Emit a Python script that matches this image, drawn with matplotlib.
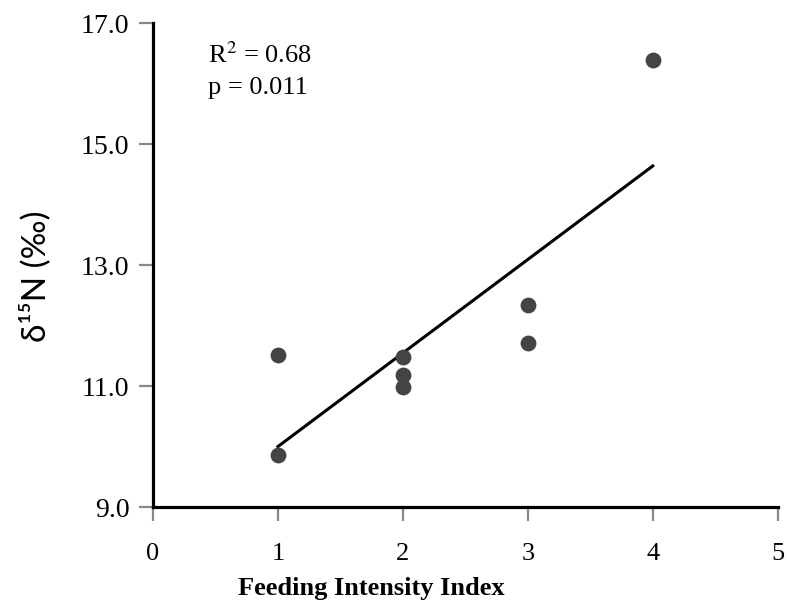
import numpy as np
import matplotlib
matplotlib.use('Agg')
import matplotlib.pyplot as plt

# feeding intensity index vs delta 15N
fii = [1, 1, 2, 2, 2, 3, 3, 4]
d15n = [11.51, 9.86, 11.48, 11.18, 10.98, 12.34, 11.71, 16.39]
xticks = [0, 1, 2, 3, 4, 5]
yticks = [9.0, 11.0, 13.0, 15.0, 17.0]
stats_text = ['R$^2$ = 0.68', 'p = 0.011']

plt.rcParams['font.family'] = ['Liberation Serif', 'DejaVu Serif']
plt.rcParams['mathtext.fontset'] = 'stix'

fig = plt.figure(figsize=(7.88, 6.15), dpi=100)
ax = fig.add_axes([0.194, 0.1756, 0.793, 0.787])

ax.scatter(fii, d15n, s=130, color='#444444', zorder=3, linewidths=0)

slope, icpt = np.polyfit(fii, d15n, 1)
xl = np.array([min(fii), max(fii)])
ax.plot(xl, slope * xl + icpt, color='black', linewidth=2.2)

ax.set_xlim(0, 5)
ax.set_ylim(9, 17)
ax.set_xticks(xticks)
ax.set_xticklabels([str(t) for t in xticks], fontsize=19)
ax.set_yticks(yticks)
ax.set_yticklabels(['%.1f' % t for t in yticks], fontsize=20)
ax.tick_params(axis='both', direction='out', length=10, width=1.6,
               color='#888888')
ax.tick_params(axis='y', pad=7)
ax.tick_params(axis='x', pad=16)

for s in ['top', 'right']:
    ax.spines[s].set_visible(False)
for s in ['left', 'bottom']:
    ax.spines[s].set_linewidth(2.3)
    ax.spines[s].set_color('black')

ax.set_xlabel('Feeding Intensity Index', fontsize=19, fontweight='bold')
ax.xaxis.set_label_coords(0.349, -0.145)
ax.set_ylabel('δ¹⁵N (‰)', fontsize=24, family=['Lato', 'DejaVu Sans'])
ax.yaxis.set_label_coords(-0.163, 0.477)

ax.text(0.44, 16.34, stats_text[0], fontsize=19, va='baseline')
ax.text(0.44, 15.82, stats_text[1], fontsize=19, va='baseline')

fig.savefig('out.png', dpi=100)
